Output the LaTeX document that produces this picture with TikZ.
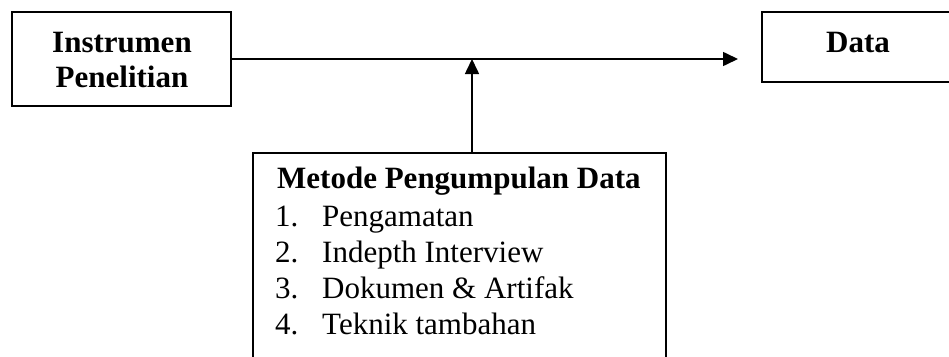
\documentclass[tikz,border=0pt]{standalone}
\usepackage{fontspec}
\setmainfont{Liberation Serif}
\usetikzlibrary{arrows.meta}
\begin{document}
\begin{tikzpicture}[x=1pt,y=-1pt,
  boxstyle/.style={draw=black, line width=1.6pt, rectangle, inner sep=0pt},
  txt/.style={inner sep=0pt, anchor=base west, font=\fontsize{31}{36}\selectfont},
  btxt/.style={inner sep=0pt, anchor=base, font=\fontsize{31}{36}\selectfont\bfseries},
  conn/.style={line width=1.6pt, -{Triangle[length=15pt,width=14pt]}}
]
\useasboundingbox (0,0) rectangle (949,356);
% boxes
\node[boxstyle, minimum width=219pt, minimum height=94pt] (instr) at (121.5,59) {};
\node[boxstyle, minimum width=192pt, minimum height=70pt] (data) at (858,47) {};
\node[boxstyle, minimum width=413pt, minimum height=230pt] (method) at (459.5,268) {};
% texts
\node[btxt] (t1) at (122,52) {Instrumen};
\node[btxt] (t2) at (122,87) {Penelitian};
\node[btxt] (t3) at (858,52) {Data};
\node[txt, font=\fontsize{31}{36}\selectfont\bfseries] (h) at (277,188) {Metode Pengumpulan Data};
\node[txt] (n1) at (275,226) {1.};
\node[txt] (i1) at (322,226) {Pengamatan};
\node[txt] (n2) at (275,262) {2.};
\node[txt] (i2) at (322,262) {Indepth Interview};
\node[txt] (n3) at (275,298) {3.};
\node[txt] (i3) at (322,298) {Dokumen \& Artifak};
\node[txt] (n4) at (275,334) {4.};
\node[txt] (i4) at (322,334) {Teknik tambahan};
% connectors
\coordinate (tipH) at (738,59);
\coordinate (meet) at (472,59);
\draw[conn] (instr.east) -- (tipH);
\draw[conn] (method.north -| meet) -- (meet);
\end{tikzpicture}
\end{document}
